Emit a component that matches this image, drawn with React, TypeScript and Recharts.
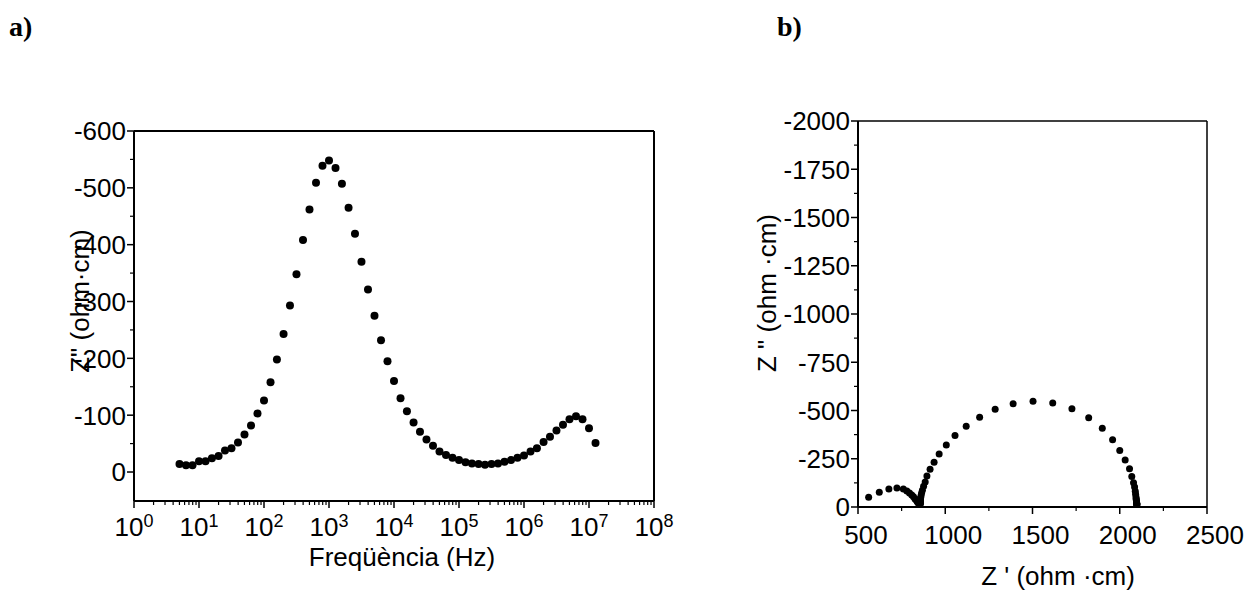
import React from 'react';
import { ScatterChart, Scatter, XAxis, YAxis, ReferenceLine } from 'recharts';

// measured frequencies (Hz), 5 Hz .. 13 MHz
const frequencies = [
  5.01, 6.31, 7.94,
  10, 12.6, 15.8, 20, 25.1, 31.6, 39.8, 50.1, 63.1, 79.4,
  100, 126, 158, 200, 251, 316, 398, 501, 631, 794,
  1000, 1260, 1580, 2000, 2510, 3160, 3980, 5010, 6310, 7940,
  10000, 12600, 15800, 20000, 25100, 31600, 39800, 50100, 63100, 79400,
  100000, 126000, 158000, 200000, 251000, 316000, 398000, 501000, 631000, 794000,
  1000000, 1260000, 1580000, 2000000, 2510000, 3160000, 3980000, 5010000, 6310000, 7940000,
  10000000, 12600000,
];

// Z'' (ohm·cm)
const zImag = [
  -14, -12, -12, -19, -19, -24, -28, -38, -42, -52,
  -66, -82, -103, -126, -158, -198, -243, -293, -348, -408,
  -462, -509, -539, -548, -535, -507, -465, -419, -370, -321,
  -275, -232, -195, -160, -130, -107, -87, -71, -57, -46,
  -36, -30, -25, -21, -17, -15, -14, -13, -14, -15,
  -18, -21, -25, -29, -36, -42, -53, -62, -73, -83,
  -93, -98, -93, -77, -51,
];

// Z' (ohm·cm)
const zReal = [
  2098, 2098, 2098, 2097, 2097, 2096, 2096, 2095, 2094, 2093,
  2091, 2089, 2085, 2079, 2069, 2056, 2031, 2000, 1959, 1900,
  1822, 1726, 1616, 1503, 1389, 1286, 1197, 1120, 1056, 1006,
  965, 936, 913, 895, 885, 876, 869, 864, 861, 859,
  858, 857, 857, 856, 856, 856, 855, 854, 853, 851,
  849, 846, 843, 839, 834, 827, 818, 808, 795, 780,
  760, 723, 677, 622, 561,
];

const decadeTicks = [1, 10, 100, 1000, 10000, 100000, 1000000, 10000000, 100000000];
const minorSteps = [2, 3, 4, 5, 6, 7, 8, 9];
const bodeYTicks = [-600, -500, -400, -300, -200, -100, 0];
const bodeYMinor = [-550, -450, -350, -250, -150, -50];
const nyqXTicks = [500, 1000, 1500, 2000, 2500];
const nyqXMinor = [750, 1250, 1750, 2250];
const nyqYTicks = [-2000, -1750, -1500, -1250, -1000, -750, -500, -250, 0];
const nyqYMinor = [-1875, -1625, -1375, -1125, -875, -625, -375, -125];

const bodeData = frequencies.map((f, i) => ({ f, z: zImag[i] }));
const nyquistData = zReal.map((x, i) => ({ x, y: zImag[i] }));

const logTicks = decadeTicks.flatMap((d, i) =>
  i < decadeTicks.length - 1 ? [d, ...minorSteps.map((m) => d * m)] : [d]
);

const FONT = '"Liberation Sans", Arial, Helvetica, sans-serif';
const FS = 26;

const LogTick = (props: any) => {
  const { x, y, payload } = props;
  const lg = Math.log10(payload.value);
  const exp = Math.round(lg);
  if (Math.abs(lg - exp) > 1e-6) {
    return <line x1={x} x2={x} y1={y} y2={y + 4} stroke="#000" strokeWidth={1.2} />;
  }
  return (
    <g>
      <line x1={x} x2={x} y1={y} y2={y + 7} stroke="#000" strokeWidth={1.5} />
      <text x={x} y={y + 35} textAnchor="middle" fontFamily={FONT} fontSize={FS} fill="#000">
        10<tspan fontSize={18} dy={-9}>{exp}</tspan>
      </text>
    </g>
  );
};

const makeYTick = (majors: number[]) => (props: any) => {
  const { x, y, payload } = props;
  const v = payload.value;
  if (!majors.includes(v)) {
    return <line x1={x - 4} x2={x} y1={y} y2={y} stroke="#000" strokeWidth={1.2} />;
  }
  return (
    <g>
      <line x1={x - 7} x2={x} y1={y} y2={y} stroke="#000" strokeWidth={1.5} />
      <text x={x - 8} y={y} dy="0.36em" textAnchor="end" fontFamily={FONT} fontSize={FS} fill="#000">
        {String(v)}
      </text>
    </g>
  );
};

const makeXTick = (majors: number[]) => (props: any) => {
  const { x, y, payload } = props;
  const v = payload.value;
  if (!majors.includes(v)) {
    return <line x1={x} x2={x} y1={y} y2={y + 4} stroke="#000" strokeWidth={1.2} />;
  }
  return (
    <g>
      <line x1={x} x2={x} y1={y} y2={y + 7} stroke="#000" strokeWidth={1.5} />
      <text x={x + 8} y={y + 37} textAnchor="middle" fontFamily={FONT} fontSize={FS} fill="#000">
        {String(v)}
      </text>
    </g>
  );
};

const Dot = (r: number) => (props: any) =>
  <circle cx={props.cx} cy={props.cy} r={r} fill="#000" />;

const axisLine = { stroke: '#000', strokeWidth: 2 };

export default function App() {
  return (
    <div style={{ position: 'absolute', left: 0, top: 0, width: 1248, height: 590, background: '#fff' }}>
      <div style={{ position: 'absolute', left: 0, top: 0 }}>
        <ScatterChart width={700} height={590} margin={{ top: 131, right: 46, bottom: 59, left: 74 }}>
          <XAxis
            dataKey="f"
            type="number"
            scale="log"
            domain={[1, 100000000]}
            allowDataOverflow
            ticks={logTicks}
            interval={0}
            tick={<LogTick />}
            tickSize={0}
            tickMargin={0}
            tickLine={false}
            axisLine={axisLine}
            height={30}
          />
          <YAxis
            dataKey="z"
            type="number"
            domain={[-600, 51]}
            reversed
            allowDataOverflow
            ticks={[...bodeYTicks, ...bodeYMinor].sort((a, b) => a - b)}
            interval={0}
            tick={makeYTick(bodeYTicks)}
            tickSize={0}
            tickMargin={0}
            tickLine={false}
            axisLine={axisLine}
            width={60}
          />
          <ReferenceLine y={-600} stroke="#000" strokeWidth={2} />
          <ReferenceLine x={100000000} stroke="#000" strokeWidth={2} />
          <Scatter data={bodeData} shape={Dot(4)} isAnimationActive={false} />
        </ScatterChart>
      </div>
      <div style={{ position: 'absolute', left: 700, top: 0 }}>
        <ScatterChart width={548} height={590} margin={{ top: 121, right: 41, bottom: 53, left: 98 }}>
          <XAxis
            dataKey="x"
            type="number"
            domain={[500, 2500]}
            allowDataOverflow
            ticks={[...nyqXTicks, ...nyqXMinor].sort((a, b) => a - b)}
            interval={0}
            tick={makeXTick(nyqXTicks)}
            tickSize={0}
            tickMargin={0}
            tickLine={false}
            axisLine={axisLine}
            height={30}
          />
          <YAxis
            dataKey="y"
            type="number"
            domain={[-2000, 0]}
            reversed
            allowDataOverflow
            ticks={[...nyqYTicks, ...nyqYMinor].sort((a, b) => a - b)}
            interval={0}
            tick={makeYTick(nyqYTicks)}
            tickSize={0}
            tickMargin={0}
            tickLine={false}
            axisLine={axisLine}
            width={60}
          />
          <ReferenceLine y={-2000} stroke="#000" strokeWidth={1.5} />
          <ReferenceLine x={2500} stroke="#000" strokeWidth={1.5} />
          <Scatter data={nyquistData} shape={Dot(3.5)} isAnimationActive={false} />
        </ScatterChart>
      </div>
      <svg width={1248} height={590} style={{ position: 'absolute', left: 0, top: 0, pointerEvents: 'none' }}>
        <text x={9} y={36} fontFamily='"Liberation Serif", "Times New Roman", serif' fontWeight="bold" fontSize={28} fill="#000">a)</text>
        <text x={777} y={36} fontFamily='"Liberation Serif", "Times New Roman", serif' fontWeight="bold" fontSize={28} fill="#000">b)</text>
        <text x={402} y={566} textAnchor="middle" fontFamily={FONT} fontSize={FS} fill="#000">Freqüència (Hz)</text>
        <text x={80} y={301} dy="0.36em" textAnchor="middle" transform="rotate(-90 80 301)" fontFamily={FONT} fontSize={FS} fill="#000">Z" (ohm·cm)</text>
        <text x={1058} y={585} textAnchor="middle" fontFamily={FONT} fontSize={FS} fill="#000">Z ' (ohm ·cm)</text>
        <text x={767} y={293} dy="0.36em" textAnchor="middle" transform="rotate(-90 767 293)" fontFamily={FONT} fontSize={FS} fill="#000">Z " (ohm ·cm)</text>
      </svg>
    </div>
  );
}
